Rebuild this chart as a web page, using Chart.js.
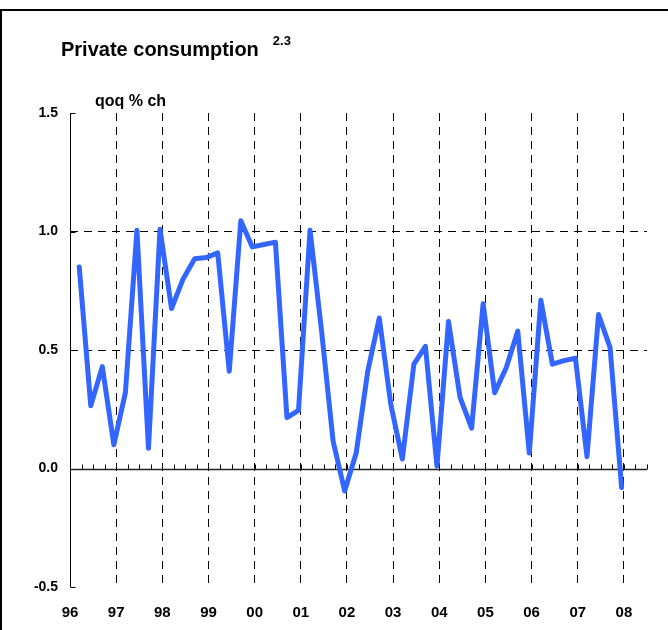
<!DOCTYPE html>
<html>
  <head>
    <meta charset="UTF-8">
    <title>private consumption</title>
    <script src="https://cdn.jsdelivr.net/npm/chart.js@4.4.0/dist/chart.umd.min.js"></script>
    <style type="text/css">
      body { margin: 0; background: #fff; }
    </style>
  </head>
  <body>
    <canvas id="myChart" width="668" height="630"></canvas>
    <script>
    // year labels on the x axis (one every 4 quarters)
    var yearLabels = ['96', '97', '98', '99', '00', '01', '02', '03', '04', '05', '06', '07', '08'];
    // quarter on quarter % change, 1996Q1 .. 2007Q4
    var qoq = [
      0.85, 0.265, 0.43, 0.10,
      0.32, 1.005, 0.085, 1.01,
      0.675, 0.80, 0.885, 0.89,
      0.91, 0.41, 1.045, 0.935,
      0.945, 0.955, 0.215, 0.245,
      1.005, 0.58, 0.115, -0.095,
      0.065, 0.41, 0.635, 0.27,
      0.04, 0.44, 0.515, 0.01,
      0.62, 0.30, 0.17, 0.695,
      0.32, 0.425, 0.58, 0.065,
      0.71, 0.44, 0.455, 0.465,
      0.05, 0.65, 0.51, -0.08
    ];
    var yTicks = [-0.5, 0, 0.5, 1.0, 1.5];

    var FONT = '"Liberation Sans", Arial, sans-serif';

    var points = qoq.map(function(v, i) {
      return {x: i + 0.8, y: v};
    });

    var decor = {
      id: 'decor',
      beforeDraw: function(chart) {
        var ctx = chart.ctx;
        ctx.save();
        ctx.fillStyle = '#fff';
        ctx.fillRect(0, 0, chart.width, chart.height);
        // frame
        ctx.strokeStyle = '#000';
        ctx.lineWidth = 2;
        ctx.beginPath();
        ctx.moveTo(0, 10);
        ctx.lineTo(chart.width, 10);
        ctx.moveTo(1, 10);
        ctx.lineTo(1, chart.height);
        ctx.stroke();
        // title
        ctx.fillStyle = '#000';
        ctx.textBaseline = 'alphabetic';
        ctx.font = 'bold 20px ' + FONT;
        ctx.fillText('Private consumption', 61, 56);
        var w = ctx.measureText('Private consumption').width;
        ctx.font = 'bold 13px ' + FONT;
        ctx.fillText('2.3', 61 + w + 14, 45);
        ctx.font = 'bold 16px ' + FONT;
        ctx.fillText('qoq % ch', 95, 106);
        ctx.restore();
      },
      beforeDatasetsDraw: function(chart) {
        var ctx = chart.ctx;
        var xs = chart.scales.x, ys = chart.scales.y;
        var y0 = Math.round(ys.getPixelForValue(0)) + 0.5;
        ctx.save();
        ctx.strokeStyle = '#000';
        ctx.lineWidth = 1;
        ctx.beginPath();
        var ax = Math.round(xs.left) + 0.5;
        ctx.moveTo(ax, ys.top);
        ctx.lineTo(ax, ys.bottom);
        yTicks.forEach(function(v) {
          var p = Math.round(ys.getPixelForValue(v)) + 0.5;
          ctx.moveTo(ax, p);
          ctx.lineTo(ax + 5, p);
        });
        // quarter tick marks on the zero line
        for (var q = 1; q <= xs.max; q++) {
          var px = Math.round(xs.getPixelForValue(q)) + 0.5;
          ctx.moveTo(px, y0);
          ctx.lineTo(px, y0 - 5);
        }
        ctx.stroke();
        ctx.lineWidth = 1.5;
        ctx.strokeStyle = '#222';
        ctx.beginPath();
        ctx.moveTo(xs.left, y0);
        ctx.lineTo(xs.right, y0);
        ctx.stroke();
        ctx.restore();
      }
    };

    var ctx = document.getElementById('myChart').getContext('2d');
    var chart = new Chart(ctx, {
      type: 'line',
      data: {
        datasets: [{
          label: 'qoq % ch',
          data: points,
          borderColor: '#3366ff',
          borderWidth: 5,
          pointRadius: 0,
          tension: 0,
          fill: false,
          borderJoinStyle: 'round',
          borderCapStyle: 'round'
        }]
      },
      options: {
        responsive: false,
        animation: false,
        devicePixelRatio: 1,
        layout: { padding: { top: 113, right: 21, left: 0, bottom: 0 } },
        plugins: {
          legend: { display: false },
          tooltip: { enabled: false }
        },
        scales: {
          x: {
            type: 'linear',
            min: 0,
            max: 50,
            afterBuildTicks: function(s) {
              s.ticks = yearLabels.map(function(l, i) { return {value: i * 4}; });
            },
            afterFit: function(s) { s.height = 43; },
            ticks: {
              callback: function(v) { return yearLabels[Math.round(v / 4)]; },
              color: '#000',
              font: { family: FONT, size: 15, weight: 'bold' },
              padding: 17,
              maxRotation: 0,
              autoSkip: false
            },
            grid: {
              color: function(c) { return (c.tick && c.tick.value > 0) ? '#000' : 'rgba(0,0,0,0)'; },
              lineWidth: 1,
              drawTicks: false
            },
            border: { display: false, dash: [8, 6] }
          },
          y: {
            min: -0.5,
            max: 1.5,
            afterBuildTicks: function(s) {
              s.ticks = yTicks.map(function(v) { return {value: v}; });
            },
            afterFit: function(s) { s.width = 70; },
            ticks: {
              callback: function(v) { return v.toFixed(1); },
              color: '#000',
              font: { family: FONT, size: 14, weight: 'bold' },
              padding: 12
            },
            grid: {
              color: function(c) {
                return (c.tick && (c.tick.value === 0.5 || c.tick.value === 1)) ? '#000' : 'rgba(0,0,0,0)';
              },
              lineWidth: 1,
              drawTicks: false
            },
            border: { display: false, dash: [8, 6] }
          }
        }
      },
      plugins: [decor]
    });
    </script>
  </body>
</html>
